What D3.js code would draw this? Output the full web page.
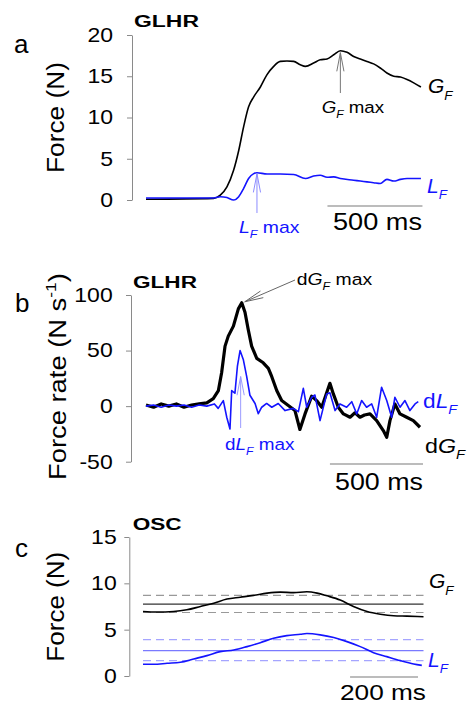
<!DOCTYPE html>
<html>
<head>
<meta charset="utf-8">
<script src="https://cdn.jsdelivr.net/npm/d3@7"></script>
<style>
body { margin: 0; background: #fff; }
svg { display: block; }
</style>
</head>
<body>
<div id="fig"></div>
<script>
// panel a - GLHR, force (N) vs time (ms)
var aGF = [[0,0.1],[356,0.2],[391,0.6],[426,1.6],[461,3.6],[488,6],[514,8.9],[540,11.3],[567,12.5],[602,13.7],
  [637,15.2],[672,16.2],[707,16.8],[742,16.85],[777,16.8],[812,16.4],[839,16.2],[882,16.6],[917,17],[953,17.1],
  [988,17.6],[1023,18.1],[1058,17.9],[1093,17.4],[1128,17.1],[1163,16.8],[1198,16.5],[1233,16],[1268,15.4],
  [1304,15],[1339,14.9],[1374,14.6],[1409,14.2],[1447,13.7]];
var aLF = [[0,0.25],[356,0.25],[391,0.4],[426,0.3],[461,0],[488,0.4],[514,1.4],[540,2.6],[567,3.2],[584,3.3],
  [637,3.15],[707,3.15],[777,3.1],[839,2.6],[882,2.9],[917,3],[953,2.75],[988,2.8],[1023,2.6],[1093,2.4],
  [1128,2.3],[1163,2.2],[1198,2.1],[1233,2.0],[1268,2.5],[1304,2.3],[1339,2.5],[1374,2.6],[1447,2.6]];
var aTicks = [0, 5, 10, 15, 20];

// panel b - GLHR, force rate (N/s)
var bGF = [[0,1],[40,-1],[80,2],[120,0],[160,2],[200,-1],[240,1],[280,2],[320,3],[354,6.7],[381,14],[398,30],
  [416,54],[433,63],[460,72],[486,87.5],[504,93],[521,84.5],[538,69],[556,54],[583,43],[617,39],[644,34],
  [662,26.5],[688,14],[714,5],[749,0.6],[784,-4],[810,-21],[837,-7],[872,9],[898,5],[925,-1],[968,20.5],
  [986,11],[1012,-1],[1039,-7],[1074,-10],[1100,-6],[1126,-10],[1150,-8],[1179,-7],[1214,-13],[1249,-22],
  [1267,-28],[1284,-13],[1310,2],[1337,-7],[1372,-10],[1407,-13],[1442,-19]];
var bLF = [[0,0],[40,1],[80,-1],[120,1],[160,0],[200,1],[240,-1],[280,1],[320,0],[360,2],[380,-2],[407,5],
  [425,-10],[442,-20.5],[451,14],[468,11.6],[481,35.7],[495,50],[512,42],[530,26.5],[547,9.8],[574,2.4],
  [591,-6.8],[609,-1],[635,2.4],[662,-1],[696,2.4],[732,-4],[775,-2],[802,-5],[828,16],[846,-1],[872,8],
  [889,10],[916,-13],[951,11],[968,12],[995,-4],[1021,2],[1056,-1],[1083,4],[1109,-7],[1135,5],[1161,-1],
  [1188,2],[1214,-10],[1240,17],[1267,5],[1293,-10],[1310,8],[1337,-1],[1363,5],[1389,-4],[1416,2],[1433,4]];
var bTicks = [-50, 0, 50, 100];

// panel c - OSC, force (N)
var cGF = [[0,6.96],[41,6.9],[90,6.96],[129,7.14],[169,7.5],[208,7.86],[247,8.3],[286,8.5],[325,8.7],
  [365,8.94],[404,9.05],[443,9.0],[482,9.09],[512,8.94],[541,8.65],[580,8.2],[619,7.5],[659,6.96],
  [698,6.67],[737,6.5],[776,6.46],[825,6.4]];
var cLF = [[0,1.26],[31,1.26],[71,1.37],[110,1.48],[149,1.84],[188,2.2],[227,2.63],[267,2.8],[306,3.17],
  [345,3.6],[384,4.07],[423,4.36],[463,4.5],[482,4.58],[521,4.44],[561,4.15],[600,3.71],[639,3.17],
  [678,2.52],[717,2.09],[757,1.66],[796,1.3],[820,1.15]];
var cGFref = [8.7, 7.75, 6.85];   // mean +/- sd
var cLFref = [3.93, 2.74, 1.66];
var cTicks = [0, 5, 10, 15];

var FONT = "'Liberation Sans', Arial, sans-serif";
var BLUE = "#1414ff";

var svg = d3.select("#fig").append("svg")
  .attr("width", 467).attr("height", 705)
  .attr("font-family", FONT);

// text with optional italic / sub / sup pieces, stretched to a width if given
function label(g, x, y, pieces, size, o) {
  o = o || {};
  var t = g.append("text")
    .attr("font-size", size)
    .attr("fill", o.color || "#000")
    .attr("font-weight", o.bold ? "bold" : "normal")
    .attr("text-anchor", o.anchor || "start");
  var shift = 0;
  pieces.forEach(function(p) {
    if (typeof p === "string") p = {s: p};
    var s = t.append("tspan").text(p.s);
    var want = p.sub ? size * 0.3 : (p.sup ? -size * 0.42 : 0);
    if (want !== shift) { s.attr("dy", want - shift); shift = want; }
    if (p.sub || p.sup) s.attr("font-size", size * 0.64);
    if (p.i) s.attr("font-style", "italic");
  });
  var sx = 1;
  if (o.w) sx = o.w / t.node().getBBox().width;
  t.attr("transform", "translate(" + x + "," + y + ")" + (o.rot ? " rotate(-90)" : "") + " scale(" + sx + ",1)");
  return t;
}

function arrow(g, x1, y1, x2, y2, color) {
  var a = Math.atan2(y1 - y2, x1 - x2), len = 19, sp = 0.19;
  g.append("path")
    .attr("d", "M" + x1 + "," + y1 + "L" + x2 + "," + y2 +
      "M" + (x2 + len * Math.cos(a - sp)) + "," + (y2 + len * Math.sin(a - sp)) + "L" + x2 + "," + y2 +
      "L" + (x2 + len * Math.cos(a + sp)) + "," + (y2 + len * Math.sin(a + sp)))
    .attr("fill", "none").attr("stroke", color).attr("stroke-width", 1);
}

function yAxis(g, y, ticks, x, gap) {
  var ax = g.append("g")
    .attr("transform", "translate(" + x + ",0)")
    .attr("color", "#8a8a8a")
    .call(d3.axisLeft(y).tickValues(ticks).tickSize(5).tickSizeOuter(0)
      .tickFormat(function(d){ return String(d); }));
  ax.selectAll("text")
    .attr("x", 0)
    .attr("fill", "#000")
    .attr("font-size", 20)
    .attr("font-family", FONT)
    .attr("transform", "translate(" + (-gap) + ",0) scale(1.15,1)");
  return ax;
}

function scaleBar(g, x, t0, t1, yPos) {
  g.append("line")
    .attr("x1", x(t0)).attr("x2", x(t1))
    .attr("y1", yPos).attr("y2", yPos)
    .attr("stroke", "#7a7a7a").attr("stroke-width", 1.2);
}

// ---------- panel a
var xA = d3.scaleLinear().domain([0, 1450]).range([146, 421.5]);
var yA = d3.scaleLinear().domain([0, 20]).range([200, 35]);
var gA = svg.append("g");
yAxis(gA, yA, aTicks, 132, 19);

var lineA = d3.line().x(function(d){ return xA(d[0]); }).y(function(d){ return yA(d[1]); }).curve(d3.curveMonotoneX);
gA.append("path").datum(aGF).attr("d", lineA).attr("fill", "none").attr("stroke", "#000").attr("stroke-width", 1.6);
gA.append("path").datum(aLF).attr("d", lineA).attr("fill", "none").attr("stroke", BLUE).attr("stroke-width", 1.6);

var gfMax = d3.greatest(aGF, function(d){ return d[1]; });
arrow(gA, xA(gfMax[0]), 93, xA(gfMax[0]), yA(gfMax[1]) + 2, "#777");
var lfMax = d3.greatest(aLF, function(d){ return d[1]; });
arrow(gA, xA(lfMax[0]), 213, xA(lfMax[0]), yA(lfMax[1]) + 1, "#8c8cff");
scaleBar(gA, xA, 955, 1455, 206);

label(gA, 14, 53, ["a"], 26);
label(gA, 134, 27.3, ["GLHR"], 17, {bold: true, w: 65});
label(gA, 64, 117.5, ["Force (N)"], 24, {rot: true, anchor: "middle", w: 111});
label(gA, 333, 230, ["500 ms"], 23, {w: 89});
label(gA, 428, 93.3, [{s: "G", i: true}, {s: "F", i: true, sub: true}], 21);
label(gA, 427, 193, [{s: "L", i: true}, {s: "F", i: true, sub: true}], 21, {color: BLUE});
label(gA, 321.7, 113, [{s: "G", i: true}, {s: "F", i: true, sub: true}, " max"], 17, {w: 63});
label(gA, 239, 233, [{s: "L", i: true}, {s: "F", i: true, sub: true}, " max"], 17, {color: BLUE, w: 61});

// ---------- panel b
var yB = d3.scaleLinear().domain([-50, 100]).range([461.7, 295]);
var gB = svg.append("g");
yAxis(gB, yB, bTicks, 131, 18.3);

var lineB = d3.line().x(function(d){ return xA(d[0]); }).y(function(d){ return yB(d[1]); });
gB.append("path").datum(bGF).attr("d", lineB).attr("fill", "none").attr("stroke", "#000")
  .attr("stroke-width", 3.2).attr("stroke-linejoin", "round");
gB.append("path").datum(bLF).attr("d", lineB).attr("fill", "none").attr("stroke", BLUE)
  .attr("stroke-width", 1.6).attr("stroke-linejoin", "round");

var dgMax = d3.greatest(bGF, function(d){ return d[1]; });
arrow(gB, 295, 280, xA(dgMax[0]) + 3, yB(dgMax[1]) - 1, "#666");
var dlMax = d3.greatest(bLF, function(d){ return d[1]; });
arrow(gB, xA(dlMax[0]) + 0.6, 428, xA(dlMax[0]) + 0.6, yB(dlMax[1]) + 26, "#9b9bff");
scaleBar(gB, xA, 968, 1458, 464);

label(gB, 15, 311.7, ["b"], 26);
label(gB, 133, 288, ["GLHR"], 17, {bold: true, w: 64});
label(gB, 66, 376.5, ["Force rate (N s", {s: "-1", sup: true}, ")"], 24, {rot: true, anchor: "middle", w: 207});
label(gB, 335, 490, ["500 ms"], 23, {w: 88});
label(gB, 296.7, 285, ["d", {s: "G", i: true}, {s: "F", i: true, sub: true}, " max"], 17, {w: 76});
label(gB, 225, 450, ["d", {s: "L", i: true}, {s: "F", i: true, sub: true}, " max"], 17, {color: BLUE, w: 70});
label(gB, 423, 408, ["d", {s: "L", i: true}, {s: "F", i: true, sub: true}], 21, {color: BLUE, w: 35});
label(gB, 425, 453, ["d", {s: "G", i: true}, {s: "F", i: true, sub: true}], 21, {w: 41});

// ---------- panel c
var xC = d3.scaleLinear().domain([0, 825]).range([143, 423.5]);
var yC = d3.scaleLinear().domain([0, 15]).range([676, 537]);
var gC = svg.append("g");
yAxis(gC, yC, cTicks, 129.3, 12.6);

function refLines(data, color, dashColor) {
  gC.selectAll(null).data(data).enter().append("line")
    .attr("x1", xC(0)).attr("x2", xC(825))
    .attr("y1", function(d){ return yC(d); }).attr("y2", function(d){ return yC(d); })
    .attr("stroke", function(d, i){ return i === 1 ? color : dashColor; })
    .attr("stroke-width", 1.2)
    .attr("stroke-dasharray", function(d, i){ return i === 1 ? null : "8,5"; });
}
refLines(cGFref, "#333", "#999");
refLines(cLFref, "#7a7aff", "#a5a5ff");

var lineC = d3.line().x(function(d){ return xC(d[0]); }).y(function(d){ return yC(d[1]); }).curve(d3.curveMonotoneX);
gC.append("path").datum(cGF).attr("d", lineC).attr("fill", "none").attr("stroke", "#000").attr("stroke-width", 1.6);
gC.append("path").datum(cLF).attr("d", lineC).attr("fill", "none").attr("stroke", BLUE).attr("stroke-width", 1.6);
scaleBar(gC, xC, 609, 809, 677);

label(gC, 15, 556.7, ["c"], 26);
label(gC, 132.7, 530, ["OSC"], 17, {bold: true, w: 49});
label(gC, 64, 606.7, ["Force (N)"], 24, {rot: true, anchor: "middle", w: 110});
label(gC, 340, 700, ["200 ms"], 22, {w: 86});
label(gC, 429, 588.3, [{s: "G", i: true}, {s: "F", i: true, sub: true}], 21);
label(gC, 428, 666.7, [{s: "L", i: true}, {s: "F", i: true, sub: true}], 21, {color: BLUE});
</script>
</body>
</html>
